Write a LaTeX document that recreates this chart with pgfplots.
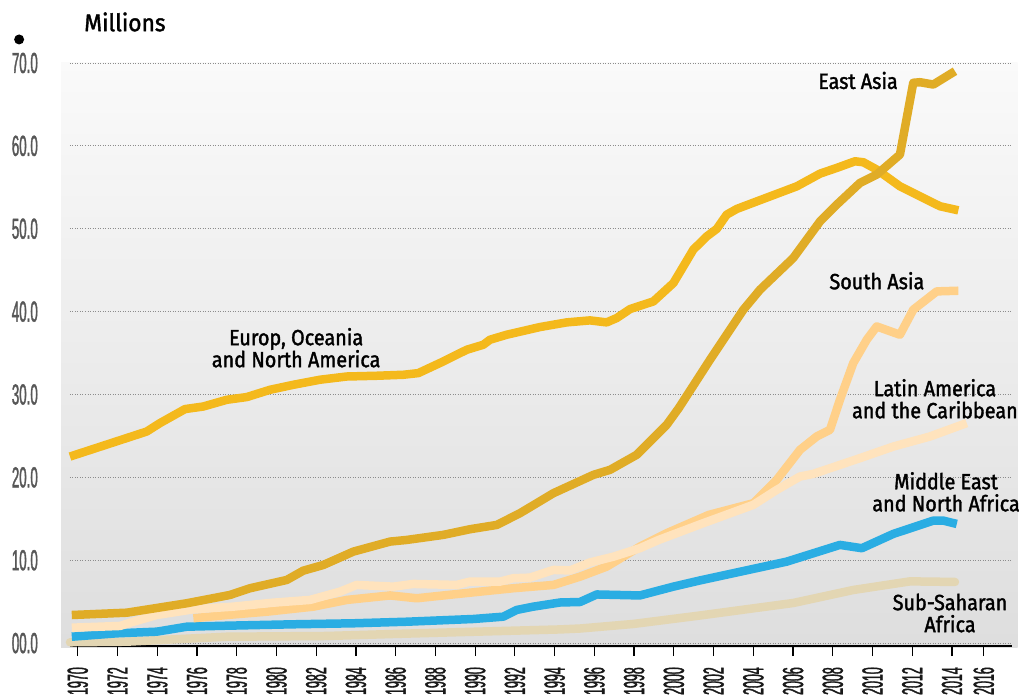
\documentclass[border=0pt]{standalone}
\usepackage{fontspec}
\setmainfont{Fira Sans}
\newfontfamily\labfont[FakeStretch=0.9, FakeBold=1.6]{Fira Sans}
\newfontfamily\milfont[FakeStretch=0.95, FakeBold=1.6]{Fira Sans}
\newfontfamily\condfontb[FakeStretch=0.46, FakeBold=1.2]{Liberation Sans}
\newfontfamily\condfontx[FakeStretch=0.43, FakeBold=1.2]{Liberation Sans}
\usepackage{pgfplots}
\pgfplotsset{compat=1.18}

\definecolor{eur}{HTML}{F4B91C}
\definecolor{eas}{HTML}{E0AC26}
\definecolor{sas}{HTML}{FFD089}
\definecolor{lat}{HTML}{FFE3BD}
\definecolor{mena}{HTML}{2AADE3}
\definecolor{ssa}{HTML}{E3D6B3}

\begin{document}
\begin{tikzpicture}
\begin{axis}[
  set layers,
  scale only axis,
  width=942pt, height=583pt,
  xmin=1969.61, xmax=2017.02,
  ymin=-0.35, ymax=70,
  clip=false,
  axis x line*=bottom,
  axis y line*=left,
  y axis line style={draw=none},
  x axis line style={line width=1.2pt, black},
  ytick={0,10,20,30,40,50,60,70},
  yticklabels={00.0,10.0,20.0,30.0,40.0,50.0,60.0,70.0},
  ymajorgrids,
  grid style={black!45, line width=0.9pt, dash pattern=on 0.9pt off 1.6pt},
  xtick={1970,1972,1974,1976,1978,1980,1982,1984,1986,1988,1990,1992,1994,1996,1998,2000,2002,2004,2006,2008,2010,2012,2014,2015.6},
  xticklabels={1970,1972,1974,1976,1978,1980,1982,1984,1986,1988,1990,1992,1994,1996,1998,2000,2002,2004,2006,2008,2010,2012,2014,2016},
  tick align=outside,
  major tick length=10pt,
  xtick style={black, line width=1.2pt},
  ytick style={draw=none},
  xticklabel style={yshift=-11pt, rotate=90, anchor=east, inner sep=0pt, font=\condfontx\fontsize{29}{29}\selectfont, text=black!90},
  yticklabel style={xshift=-22pt, anchor=east, inner sep=0pt, font=\condfontb\fontsize{29}{29}\selectfont, text=black!66},
  every axis plot/.append style={line width=8.5pt, line join=round, no markers},
]
\begin{pgfonlayer}{axis background}
\fill[top color=white!98!black, bottom color=black!13] (axis cs:1969.16,-0.47) rectangle (axis cs:2017.3,70.05);
\end{pgfonlayer}

% Sub-Saharan Africa
\addplot[ssa, line cap=round] coordinates {
(1969.61,0.10) (1972.47,0.17) (1977.50,0.77) (1982.53,0.86) (1985.88,1.10)
(1990.08,1.38) (1994.27,1.65) (1995.28,1.76) (1997.96,2.31) (2001.31,3.33)
(2006.01,4.84) (2009.03,6.41) (2011.89,7.45) (2014.15,7.38)};

% Middle East and North Africa
\addplot[mena] coordinates {
(1969.70,0.77) (1971.96,1.18) (1973.98,1.38) (1975.49,1.98) (1977.50,2.10)
(1980.85,2.27) (1983.87,2.39) (1986.56,2.58) (1989.91,2.91) (1991.42,3.19)
(1992.09,4.00) (1992.93,4.40) (1994.27,4.90) (1995.28,4.96) (1996.12,5.87)
(1998.29,5.75) (1999.97,6.81) (2001.31,7.56) (2005.68,9.83) (2008.36,11.85)
(2009.46,11.45) (2011.05,13.18) (2013.06,14.78) (2013.56,14.78) (2014.24,14.38)};

% South Asia
\addplot[sas] coordinates {
(1975.82,3.00) (1977.50,3.39) (1979.51,3.79) (1981.86,4.40) (1983.54,5.21)
(1985.72,5.75) (1987.06,5.41) (1988.40,5.75) (1990.25,6.21) (1991.92,6.62)
(1993.94,7.02) (1995.28,8.02) (1996.62,9.23) (1998.29,11.64) (1999.64,13.26)
(2001.76,15.47) (2004.00,16.88) (2005.18,19.70) (2006.35,23.32) (2007.19,24.93)
(2007.86,25.74) (2008.36,29.36) (2009.03,33.79) (2009.71,36.61) (2010.21,38.21)
(2011.38,37.21) (2012.05,40.23) (2013.23,42.44) (2014.32,42.52)};

% Latin America and the Caribbean
\addplot[lat] coordinates {
(1969.70,1.86) (1972.13,2.07) (1972.80,2.58) (1973.98,3.39) (1975.82,4.08)
(1977.83,4.40) (1979.84,4.88) (1981.69,5.21) (1983.20,6.21) (1984.04,7.02)
(1985.88,6.81) (1986.89,7.14) (1989.07,7.02) (1989.74,7.42) (1991.25,7.42)
(1991.92,7.83) (1992.76,7.90) (1993.94,8.83) (1994.78,8.77) (1995.78,9.73)
(1996.96,10.43) (1998.29,11.45) (1999.24,12.45) (2001.48,14.47) (2004.00,16.68)
(2005.18,18.49) (2006.35,20.10) (2007.02,20.42) (2009.37,22.32) (2011.05,23.72)
(2012.89,24.93) (2014.74,26.55)};

% Europe, Oceania and North America
\addplot[eur] coordinates {
(1969.61,22.51) (1973.47,25.53) (1974.14,26.55) (1975.40,28.24) (1976.32,28.55)
(1977.50,29.36) (1978.51,29.69) (1979.68,30.57) (1980.85,31.17) (1982.19,31.78)
(1983.54,32.17) (1985.05,32.26) (1986.39,32.38) (1987.14,32.58) (1988.40,33.99)
(1989.58,35.40) (1990.41,36.00) (1990.75,36.61) (1991.59,37.21) (1993.27,38.14)
(1994.61,38.70) (1995.78,38.94) (1996.62,38.70) (1997.13,39.23) (1997.80,40.31)
(1998.97,41.23) (1999.98,43.45) (2000.48,45.46) (2000.98,47.48) (2001.66,49.08)
(2002.16,49.98) (2002.66,51.70) (2003.17,52.39) (2004.34,53.45) (2006.19,55.12)
(2007.36,56.65) (2008.20,57.34) (2009.12,58.14) (2009.54,58.02) (2010.21,57.14)
(2011.38,55.12) (2012.39,53.91) (2013.40,52.71) (2014.32,52.22)};

% East Asia
\addplot[eas] coordinates {
(1969.70,3.39) (1972.47,3.67) (1975.49,4.81) (1977.66,5.81) (1978.67,6.62)
(1980.52,7.62) (1981.35,8.74) (1982.36,9.43) (1983.87,11.04) (1985.72,12.25)
(1986.56,12.45) (1988.40,13.06) (1989.74,13.74) (1991.09,14.26) (1992.26,15.68)
(1993.94,18.09) (1995.95,20.30) (1996.79,20.91) (1998.13,22.72) (1999.64,26.34)
(2000.25,28.36) (2001.82,34.19) (2003.50,40.23) (2004.34,42.65) (2006.01,46.47)
(2007.36,50.89) (2008.20,52.91) (2009.37,55.53) (2010.21,56.53) (2011.38,58.95)
(2012.05,67.61) (2012.39,67.68) (2013.06,67.40) (2014.15,69.01)};

% tick marks below the axis line
\pgfplotsinvokeforeach{1970,1972,1974,1976,1978,1980,1982,1984,1986,1988,1990,1992,1994,1996,1998,2000,2002,2004,2006,2008,2010,2012,2014,2015.6}{
  \draw[black, line width=1.2pt] (axis cs:#1,-0.35) -- (axis cs:#1,-1.56);
}

% labels
\fill (axis cs:1967.05,72.84) circle (5pt);
\node[anchor=base west, inner sep=0pt, font=\milfont\fontsize{24}{24}\selectfont] at (axis cs:1970.32,73.84) {Millions};
\begin{scope}[every node/.style={align=center, inner sep=0pt, font=\labfont\fontsize{22}{22}\selectfont}]
\node at (axis cs:2009.27,67.89) {East Asia};
\node at (axis cs:2010.22,43.72) {South Asia};
\node at (axis cs:2013.14,29.48) {Latin America\\and the Caribbean};
\node at (axis cs:2013.70,18.25) {Middle East\\and North Africa};
\node at (axis cs:2013.90,3.63) {Sub-Saharan\\Africa};
\node at (axis cs:1980.99,35.64) {Europ, Oceania\\and North America};
\end{scope}
\end{axis}
\pgfresetboundingbox
\path[use as bounding box] (-70pt,-48pt) rectangle (954pt,646pt);
\end{tikzpicture}
\end{document}
